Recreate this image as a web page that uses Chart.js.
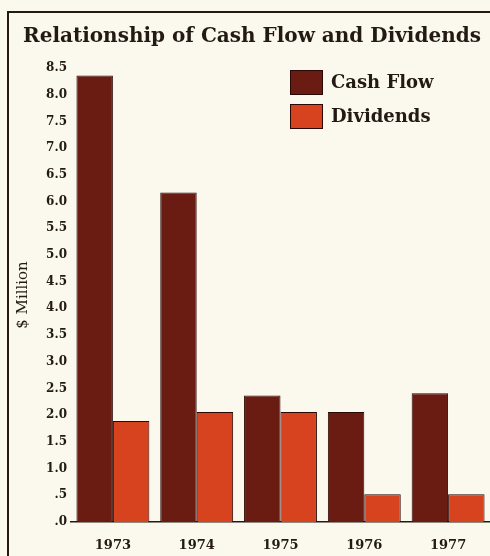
<!DOCTYPE html>
<html>
<head>
<meta charset="utf-8">
<script src="https://cdn.jsdelivr.net/npm/chart.js@4.4.0/dist/chart.umd.min.js"></script>
<style>
  html, body { margin: 0; padding: 0; background: #fbf9ee; }
  #wrap { width: 490px; height: 556px; position: relative; }
</style>
</head>
<body>
<div id="wrap"><canvas id="chart"></canvas></div>
<script>
// data
var years = ["1973", "1974", "1975", "1976", "1977"];
var cashFlow = [8.36, 6.17, 2.37, 2.06, 2.41];
var dividends = [1.89, 2.06, 2.06, 0.52, 0.52];
var seriesNames = ["Cash Flow", "Dividends"];
var yTicks = [0, 0.5, 1, 1.5, 2, 2.5, 3, 3.5, 4, 4.5, 5, 5.5, 6, 6.5, 7, 7.5, 8, 8.5];

var serif = "'DejaVu Serif', serif";
var ink = "#231a14";

// paper, frame and legend are drawn by hand
var paper = {
    id: "paper",
    beforeDraw: function (chart) {
        var ctx = chart.ctx;
        ctx.save();
        ctx.fillStyle = "#fbf9ee";
        ctx.fillRect(0, 0, chart.width, chart.height);
        ctx.strokeStyle = ink;
        ctx.lineWidth = 2;
        ctx.beginPath();
        ctx.moveTo(8, chart.height);
        ctx.lineTo(8, 12);
        ctx.lineTo(chart.width, 12);
        ctx.stroke();
        ctx.restore();
    },
    afterDraw: function (chart) {
        var ctx = chart.ctx;
        ctx.save();
        chart.data.datasets.forEach(function (ds, i) {
            var y = 70 + i * 34;
            ctx.fillStyle = ds.backgroundColor;
            ctx.fillRect(290, y, 33, 25);
            ctx.strokeStyle = "#2a0804";
            ctx.lineWidth = 1;
            ctx.strokeRect(290.5, y + 0.5, 32, 24);
            ctx.fillStyle = ink;
            ctx.font = "bold 18px " + serif;
            ctx.textBaseline = "middle";
            ctx.fillText(ds.label, 331, y + 13);
        });
        ctx.restore();
    }
};

new Chart(document.getElementById("chart"), {
    type: "bar",
    data: {
        labels: years,
        datasets: [
            { label: seriesNames[0], data: cashFlow, backgroundColor: "#6b1c12", borderColor: "#2a0804", borderWidth: 1 },
            { label: seriesNames[1], data: dividends, backgroundColor: "#d8431f", borderColor: "#2a0804", borderWidth: 1 }
        ]
    },
    options: {
        responsive: true,
        maintainAspectRatio: false,
        animation: false,
        categoryPercentage: 0.87,
        barPercentage: 1.0,
        layout: { padding: { left: 14, right: 0, top: 0, bottom: 0 } },
        plugins: {
            legend: { display: false },
            tooltip: { enabled: false },
            title: {
                display: true,
                text: "Relationship of Cash Flow and Dividends",
                color: ink,
                font: { family: serif, size: 20, weight: "bold" },
                padding: { top: 25, bottom: 19 }
            }
        },
        scales: {
            x: {
                afterFit: function (scale) { scale.height = 34; },
                grid: { display: false, drawTicks: false },
                border: { display: true, color: ink, width: 1.5 },
                ticks: { color: ink, font: { family: serif, size: 13, weight: "bold" }, padding: 16 }
            },
            y: {
                min: 0,
                max: 8.5,
                afterBuildTicks: function (scale) {
                    scale.ticks = yTicks.map(function (v) { return { value: v }; });
                },
                afterFit: function (scale) { scale.width = 57; },
                grid: { display: false, drawTicks: false },
                border: { display: false },
                title: {
                    display: true,
                    text: "$ Million",
                    color: ink,
                    font: { family: serif, size: 15 },
                    padding: { top: 0, bottom: 10 }
                },
                ticks: {
                    color: ink,
                    padding: 4,
                    font: { family: serif, size: 12, weight: "bold" },
                    callback: function (v) {
                        var s = Number(v).toFixed(1);
                        return s.charAt(0) === "0" ? s.slice(1) : s;
                    }
                }
            }
        }
    },
    plugins: [paper]
});
</script>
</body>
</html>
